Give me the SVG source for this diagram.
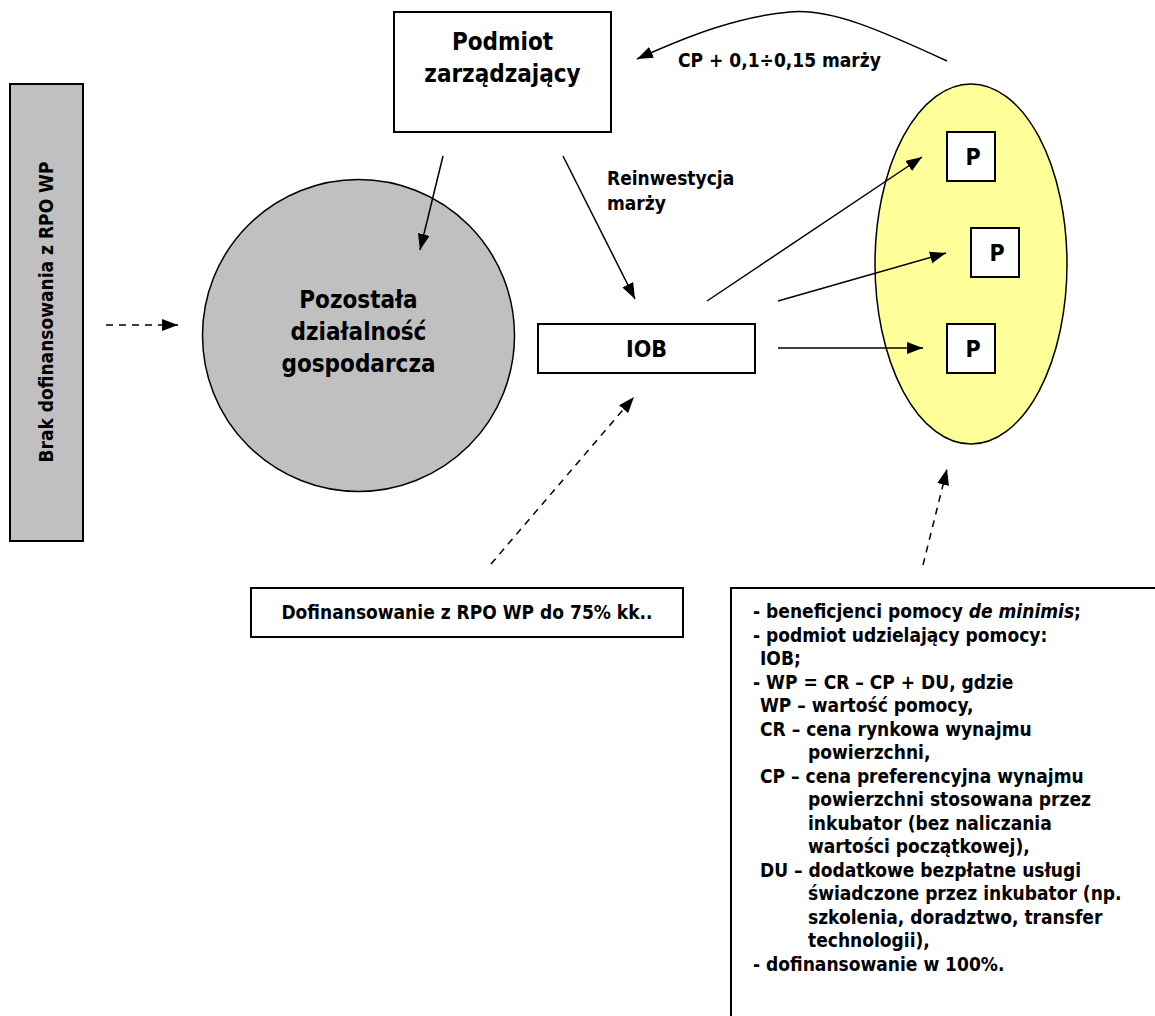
<svg xmlns="http://www.w3.org/2000/svg" width="1155" height="1016" viewBox="0 0 1155 1016">
<style>
text{font-family:"DejaVu Sans Condensed","DejaVu Sans",Verdana,sans-serif;font-stretch:condensed;font-weight:bold;fill:#000}
.box{fill:#fff;stroke:#000;stroke-width:2}
.ln{fill:none;stroke:#000;stroke-width:1.5}
.dash{fill:none;stroke:#000;stroke-width:1.5;stroke-dasharray:7 6}
.s{font-size:19px}
.big{font-size:24px}
.mid{text-anchor:middle}
</style>
<defs>
<marker id="ah" markerUnits="userSpaceOnUse" markerWidth="17" markerHeight="13" refX="16" refY="6" orient="auto">
<path d="M0,0 L16,6 L0,12 z" fill="#000"/>
</marker>
</defs>
<rect width="1155" height="1016" fill="#fff"/>

<g id="brak">
<rect x="10" y="84" width="73" height="457" fill="#c0c0c0" stroke="#000" stroke-width="2"/>
<text class="s mid" transform="translate(53,312) rotate(-90)">Brak dofinansowania z RPO WP</text>
</g>

<g id="podmiot">
<rect class="box" x="394" y="12" width="217" height="120"/>
<text class="big mid" x="502.5" y="50">Podmiot</text>
<text class="big mid" x="502.5" y="82">zarządzający</text>
</g>

<g id="pozostala">
<circle cx="358.5" cy="335.5" r="156" fill="#c0c0c0" stroke="#000" stroke-width="1.5"/>
<text class="big mid" x="358.5" y="308">Pozostała</text>
<text class="big mid" x="358.5" y="340">działalność</text>
<text class="big mid" x="358.5" y="372">gospodarcza</text>
</g>

<g id="iob">
<rect class="box" x="538" y="324" width="217" height="49"/>
<text class="mid" x="646.5" y="357" font-size="23">IOB</text>
</g>

<g id="przedsiebiorcy">
<ellipse cx="971" cy="264" rx="96" ry="180" fill="#ffff99" stroke="#000" stroke-width="1.5"/>
<g id="p1"><rect class="box" x="947" y="132" width="48" height="49"/><text class="mid" x="973" y="165" font-size="23">P</text></g>
<g id="p2"><rect class="box" x="971" y="228" width="48" height="49"/><text class="mid" x="997" y="261" font-size="23">P</text></g>
<g id="p3"><rect class="box" x="947" y="324" width="48" height="49"/><text class="mid" x="973" y="357" font-size="23">P</text></g>
</g>

<g id="dofinansowanie">
<rect class="box" x="251" y="588" width="432" height="49"/>
<text class="s mid" x="467" y="619">Dofinansowanie z RPO WP do 75% kk..</text>
</g>

<g id="opis">
<path d="M730,588 H1155 M731,588 V1016" fill="none" stroke="#000" stroke-width="2"/>
<text class="s" x="753" y="618">- beneficjenci pomocy <tspan font-style="italic">de minimis</tspan>;</text>
<text class="s" x="753" y="641.5">- podmiot udzielający pomocy:</text>
<text class="s" x="760" y="665">IOB;</text>
<text class="s" x="753" y="688.5">- WP = CR – CP + DU, gdzie</text>
<text class="s" x="760" y="712">WP – wartość pomocy,</text>
<text class="s" x="760" y="735.5">CR – cena rynkowa wynajmu</text>
<text class="s" x="808" y="759">powierzchni,</text>
<text class="s" x="760" y="782.5">CP – cena preferencyjna wynajmu</text>
<text class="s" x="808" y="806">powierzchni stosowana przez</text>
<text class="s" x="808" y="829.5">inkubator (bez naliczania</text>
<text class="s" x="808" y="853">wartości początkowej),</text>
<text class="s" x="760" y="876.5">DU – dodatkowe bezpłatne usługi</text>
<text class="s" x="808" y="900">świadczone przez inkubator (np.</text>
<text class="s" x="808" y="923.5">szkolenia, doradztwo, transfer</text>
<text class="s" x="808" y="947">technologii),</text>
<text class="s" x="753" y="970.5">- dofinansowanie w 100%.</text>
</g>

<g id="connectors">
<path class="ln" d="M947,61 C880,30 830,8 790,12 C740,16 690,35 637,59" marker-end="url(#ah)"/>
<text class="s" x="678" y="67">CP + 0,1÷0,15 marży</text>
<line class="ln" x1="443" y1="156" x2="420" y2="250" marker-end="url(#ah)"/>
<line class="ln" x1="563" y1="156" x2="635" y2="299" marker-end="url(#ah)"/>
<text class="s" x="607" y="185">Reinwestycja</text>
<text class="s" x="607" y="210">marży</text>
<line class="ln" x1="707" y1="301" x2="922" y2="157" marker-end="url(#ah)"/>
<line class="ln" x1="778" y1="301" x2="946" y2="253" marker-end="url(#ah)"/>
<line class="ln" x1="778" y1="348" x2="923" y2="348" marker-end="url(#ah)"/>
<line class="dash" x1="106" y1="325" x2="178" y2="325" marker-end="url(#ah)"/>
<line class="dash" x1="491" y1="564" x2="634" y2="397" marker-end="url(#ah)"/>
<line class="dash" x1="923" y1="565" x2="947" y2="469" marker-end="url(#ah)"/>
</g>
</svg>
